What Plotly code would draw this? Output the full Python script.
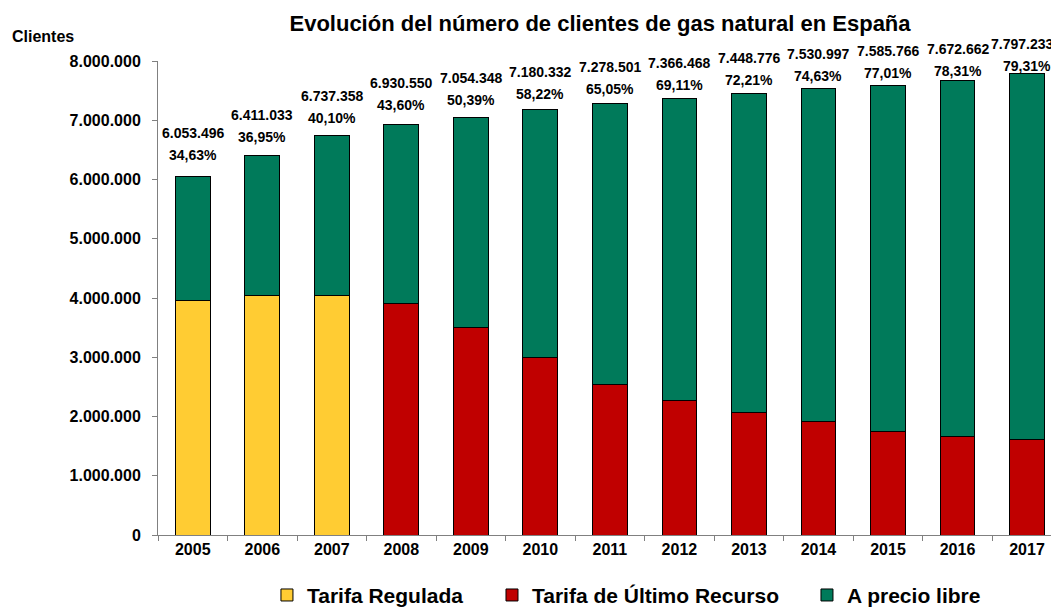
import plotly.graph_objects as go

years = ["2005", "2006", "2007", "2008", "2009", "2010", "2011", "2012",
         "2013", "2014", "2015", "2016", "2017"]
tarifa_regulada = [3957170, 4042156, 4035677, None, None, None, None, None,
                   None, None, None, None, None]
tarifa_ur = [None, None, None, 3908830, 3499662, 2999943, 2543836, 2275502,
             2070015, 1910614, 1743868, 1664200, 1613233]
precio_libre = [2096326, 2368877, 2701681, 3021720, 3554686, 4180389, 4734665,
                5090966, 5378761, 5620383, 5841898, 6008462, 6184000]
totales = [6053496, 6411033, 6737358, 6930550, 7054348, 7180332, 7278501,
           7366468, 7448776, 7530997, 7585766, 7672662, 7797233]
pct_libre = [34.63, 36.95, 40.10, 43.60, 50.39, 58.22, 65.05, 69.11, 72.21,
             74.63, 77.01, 78.31, 79.31]

# label offsets above each bar top (px) -- style only
pct_shift = [21, 18, 18, 19, 17, 16, 15, 14, 14, 13, 13, 9, 7]
tot_gap = 22
tot_xshift = [0, 0, 0, 0, 0, 0, 0, 0, 0, 0, 0, 0, -5]

FONT = "Arial, Liberation Sans, sans-serif"
C_REG = "#FFCC33"
C_TUR = "#C00000"
C_LIB = "#007A5A"
line = dict(color="#000000", width=1)


def bold(size):
    return dict(family=FONT, size=size, color="#000000", weight="bold")


fig = go.Figure()
fig.add_trace(go.Bar(x=years, y=tarifa_regulada, name="Tarifa Regulada",
                     legend="legend", showlegend=True,
                     marker=dict(color=C_REG, line=line)))
fig.add_trace(go.Bar(x=years, y=tarifa_ur, name="Tarifa de Último Recurso",
                     legend="legend2", showlegend=True,
                     marker=dict(color=C_TUR, line=line)))
fig.add_trace(go.Bar(x=years, y=precio_libre, name="A precio libre",
                     legend="legend3", showlegend=True,
                     marker=dict(color=C_LIB, line=line)))


def fmt_int(v):
    return f"{v:,}".replace(",", ".")


def fmt_pct(v):
    return f"{v:.2f}".replace(".", ",") + "%"


annotations = []
for i, (tot, p) in enumerate(zip(totales, pct_libre)):
    annotations.append(dict(x=i, y=tot, xref="x", yref="y", text=fmt_int(tot),
                            showarrow=False, yshift=pct_shift[i] + tot_gap,
                            xshift=tot_xshift[i],
                            yanchor="middle", font=bold(14)))
    annotations.append(dict(x=i, y=tot, xref="x", yref="y", text=fmt_pct(p),
                            showarrow=False, yshift=pct_shift[i],
                            yanchor="middle", font=bold(14)))

annotations.append(dict(x=-0.1643, y=1.0527, xref="paper", yref="paper",
                        text="Clientes", showarrow=False,
                        xanchor="left", yanchor="middle", font=bold(16)))

leg_common = dict(orientation="h", xref="container", yref="container",
                  xanchor="left", yanchor="middle", y=0.026,
                  font=bold(21), itemwidth=30, bgcolor="rgba(0,0,0,0)")

fig.update_layout(
    width=1051, height=603,
    margin=dict(l=150, r=0, t=53, b=76),
    paper_bgcolor="white", plot_bgcolor="white",
    barmode="stack", bargap=0.5,
    separators=",.",
    font=dict(family=FONT, size=16, color="#000000"),
    title=dict(text="Evolución del número de clientes de gas natural en España",
               x=0.5633, xanchor="center", y=0.975, yanchor="middle",
               font=bold(22)),
    xaxis=dict(type="category", range=[-0.5, 12.46], showgrid=False,
               showline=True, linecolor="#808080", linewidth=1,
               ticks="outside", tickson="boundaries", ticklen=5,
               tickcolor="#808080", tickfont=bold(16)),
    yaxis=dict(range=[0, 8000000], tickvals=[0, 1000000, 2000000, 3000000,
                                             4000000, 5000000, 6000000,
                                             7000000, 8000000],
               tickformat=",d", showgrid=False, zeroline=False,
               showline=True, linecolor="#808080", linewidth=1,
               ticks="outside", ticklen=5, tickcolor="#808080",
               ticklabelstandoff=8, tickfont=bold(16)),
    legend=dict(x=0.2464, **leg_common),
    legend2=dict(x=0.4605, **leg_common),
    legend3=dict(x=0.7602, **leg_common),
    annotations=annotations,
)

fig.write_html("out.html")
